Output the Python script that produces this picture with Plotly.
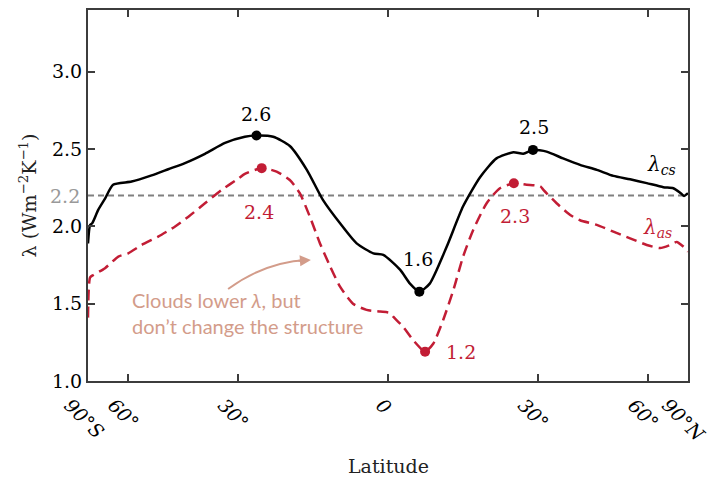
import numpy as np
import plotly.graph_objects as go

# ---- data (latitude in degrees, lambda in W m^-2 K^-1) ----
lat_cs = [-90, -83.2, -80.4, -75.0, -70.6, -66.4, -58.7, -52.0, -47.1, -42.6, -37.6, -32.9,
          -28.5, -26.0, -22.5, -19.1, -15.7, -12.5, -9.2, -6.0, -2.8, -0.9, 2.3, 4.2, 6.0,
          8.0, 11.3, 14.5, 17.9, 21.2, 24.7, 26.8, 28.9, 31.9, 35.7, 39.8, 44.1, 48.7,
          53.8, 59.6, 66.6, 72.0, 76.6, 80.7, 90]
lam_cs = [1.89, 2.01, 2.02, 2.107, 2.18, 2.27, 2.29, 2.33, 2.37, 2.41, 2.47, 2.54,
          2.58, 2.588, 2.58, 2.52, 2.366, 2.17, 2.02, 1.89, 1.826, 1.816, 1.72, 1.63, 1.578,
          1.63, 1.87, 2.13, 2.32, 2.44, 2.48, 2.47, 2.495, 2.484, 2.44, 2.398, 2.366, 2.327,
          2.305, 2.28, 2.254, 2.247, 2.22, 2.197, 2.215]

lat_as = [-90, -83.2, -79.1, -70.6, -64.0, -60.0, -55.2, -50.0, -45.2, -41.7, -37.6, -33.7,
          -29.9, -28.5, -24.9, -21.8, -19.1, -17.1, -15.1, -13.1, -11.1, -9.2, -6.7, -4.1,
          -1.5, 0.4, 1.0, 2.9, 4.8, 7.1, 8.7, 10.6, 12.6, 14.5, 16.5, 19.2, 21.9, 24.8,
          27.5, 30.5, 31.2, 34.2, 37.4, 39.8, 44.1, 48.7, 53.8, 59.6, 65.1, 70.1, 74.2,
          79.8, 90]
lam_as = [1.41, 1.67, 1.686, 1.73, 1.805, 1.826, 1.88, 1.934, 2.0, 2.063, 2.15, 2.236,
          2.31, 2.34, 2.377, 2.355, 2.30, 2.215, 2.063, 1.89, 1.74, 1.61, 1.50, 1.46,
          1.449, 1.44, 1.416, 1.35, 1.265, 1.19, 1.243, 1.395, 1.59, 1.805, 1.977, 2.15, 2.247, 2.279,
          2.27, 2.26, 2.236, 2.15, 2.074, 2.04, 2.01, 1.966, 1.923, 1.88, 1.86, 1.88, 1.90,
          1.87, 1.837]

# highlighted extrema (indices into the series)
cs_marks = [13, 24, 32]
as_marks = [14, 29, 37]
global_mean = 2.2

tick_lats = [-90, -60, -30, 0, 30, 60, 90]
tick_text = ["90°S", "60°", "30°", "0", "30°", "60°", "90°N"]
y_ticks = [1.0, 1.5, 2.0, 2.5, 3.0]

RED = "#c21d35"
GRAY = "#808080"
ANNO = "#d39c8a"
AX = "#3c3c3c"
SERIF = "DejaVu Serif"


def s(lat):
    return np.sin(np.radians(np.asarray(lat, dtype=float)))


fig = go.Figure()

fig.add_trace(go.Scatter(x=[-1, 1], y=[global_mean, global_mean], mode="lines",
                         line=dict(color=GRAY, width=1.8, dash="6px,4px"), showlegend=False))
fig.add_trace(go.Scatter(x=s(lat_as), y=lam_as, mode="lines",
                         line=dict(color=RED, width=2.5, dash="11px,6px", shape="spline", smoothing=0.6),
                         showlegend=False))
fig.add_trace(go.Scatter(x=s(lat_cs), y=lam_cs, mode="lines",
                         line=dict(color="black", width=2.5, shape="spline", smoothing=0.6),
                         showlegend=False))
fig.add_trace(go.Scatter(x=s([lat_cs[i] for i in cs_marks]), y=[lam_cs[i] for i in cs_marks],
                         mode="markers", marker=dict(color="black", size=10), showlegend=False))
fig.add_trace(go.Scatter(x=s([lat_as[i] for i in as_marks]), y=[lam_as[i] for i in as_marks],
                         mode="markers", marker=dict(color=RED, size=10), showlegend=False))

ann = []
# value labels next to extrema
cs_shift = [(0, 22), (-1, 33), (1, 23)]
as_shift = [(-3, -44), (36, 0), (1, -33)]
for i, (dx, dy) in zip(cs_marks, cs_shift):
    ann.append(dict(x=float(s(lat_cs[i])), y=lam_cs[i], text=f"{round(lam_cs[i], 1):.1f}",
                    showarrow=False, xshift=dx, yshift=dy,
                    font=dict(family=SERIF, size=19, color="black")))
for i, (dx, dy) in zip(as_marks, as_shift):
    ann.append(dict(x=float(s(lat_as[i])), y=lam_as[i], text=f"{round(lam_as[i], 1):.1f}",
                    showarrow=False, xshift=dx, yshift=dy,
                    font=dict(family=SERIF, size=19, color=RED)))

# series labels
ann.append(dict(x=0.913, y=2.398, text="<i>λ<sub>cs</sub></i>", showarrow=False,
                font=dict(family=SERIF, size=20, color="black")))
ann.append(dict(x=0.897, y=1.99, text="<i>λ<sub>as</sub></i>", showarrow=False,
                font=dict(family=SERIF, size=20, color=RED)))

# gray 2.2 tick label
ann.append(dict(x=0, xref="paper", y=global_mean, text="2.2", showarrow=False,
                xanchor="right", xshift=-6, font=dict(family=SERIF, size=19, color="#999999")))

# x tick labels (rotated)
for lat, t in zip(tick_lats, tick_text):
    ann.append(dict(x=float(s(lat)), y=0, yref="paper", text=f"<i>{t}</i>", showarrow=False,
                    textangle=45, xanchor="center", yanchor="top", xshift=-4, yshift=-10,
                    font=dict(family=SERIF, size=19, color="black")))

ann.append(dict(x=0.5, y=0, xref="paper", yref="paper", text="Latitude", showarrow=False,
                yanchor="middle", yshift=-85, font=dict(family=SERIF, size=19, color="#222")))

# cloud annotation
ann.append(dict(x=-0.86, y=1.44, text="Clouds lower <i>λ</i>, but<br>don’t change the structure",
                showarrow=False, xanchor="left", yanchor="middle", align="left",
                font=dict(family="Lato", size=20, color=ANNO)))
ann.append(dict(x=-0.257, y=1.783, ax=-14, ay=1, text="", showarrow=True, arrowhead=2,
                arrowsize=1.1, arrowwidth=2, arrowcolor=ANNO))

fig.update_layout(
    width=715, height=479,
    margin=dict(l=88, r=27, t=10, b=98),
    plot_bgcolor="white", paper_bgcolor="white",
    annotations=ann,
    shapes=[dict(type="path", xref="x", yref="y",
                 path="M -0.533 1.595 Q -0.41 1.77 -0.27 1.783",
                 line=dict(color=ANNO, width=2))],
    font=dict(family=SERIF, size=19, color="black"),
)
fig.update_xaxes(range=[-1, 1], tickvals=list(s(tick_lats)), showticklabels=False,
                 ticks="inside", ticklen=7, tickwidth=1.5, tickcolor=AX,
                 showline=True, linecolor=AX, linewidth=2, mirror="ticks",
                 showgrid=False, zeroline=False, automargin=False)
fig.update_yaxes(range=[1.0, 3.4], tickvals=y_ticks, ticktext=[f"{v:.1f}" for v in y_ticks],
                 ticks="inside", ticklen=7, tickwidth=1.5, tickcolor=AX,
                 showline=True, linecolor=AX, linewidth=2, mirror="ticks",
                 showgrid=False, zeroline=False, automargin=False,
                 tickfont=dict(family=SERIF, size=19, color="black"),
                 title=dict(text="λ (Wm<sup>−2</sup>K<sup>−1</sup>)", standoff=10,
                            font=dict(family=SERIF, size=19, color="#222")))

fig.write_html("out.html", config={"displayModeBar": False},
               post_script="document.body.style.margin='0';")
